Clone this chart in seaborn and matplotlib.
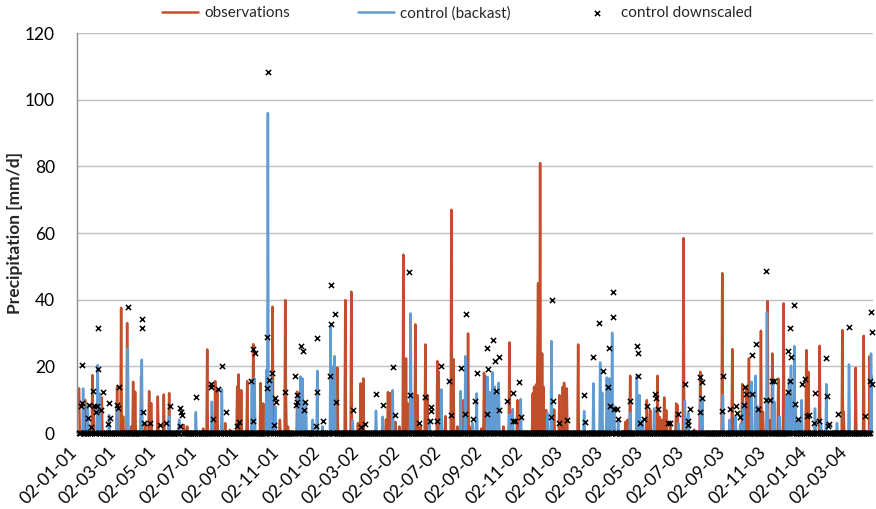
import numpy as np
import pandas as pd
import matplotlib
matplotlib.use("Agg")
import matplotlib.pyplot as plt
import matplotlib.dates as mdates
import seaborn as sns

# ---------------- data ----------------
start_date = "2001-01-01"
n_days = 1190

obs_day = [0, 9, 20, 22, 34, 57, 63, 66, 72, 78, 81, 84, 93, 99, 105, 108, 118, 127, 135, 150, 157, 162,
           186, 192, 204, 207, 219, 226, 237, 239, 243, 252, 261, 272, 276, 290, 301, 309, 310, 313, 327,
           387, 399, 408, 418, 422, 426, 460, 463, 466, 474, 480, 486, 490, 493, 504, 507, 512, 519, 522,
           537, 539, 549, 558, 561, 567, 576, 579, 583, 585, 603, 607, 609, 636, 645, 657, 680, 682, 685,
           687, 688, 691, 694, 696, 700, 712, 720, 725, 727, 731, 748, 819, 822, 826, 851, 856, 867, 870,
           873, 877, 880, 886, 895, 897, 906, 922, 931, 964, 979, 994, 1000, 1004, 1019, 1022, 1025, 1032,
           1036, 1039, 1048, 1056, 1058, 1090, 1093, 1110, 1144, 1146, 1164, 1176, 1185]
obs_mm = [13.4, 10, 17.4, 7.9, 10.7, 14, 37.6, 5, 33, 2, 15.4, 12.4, 17, 3, 12.6, 9, 11, 11.6, 12, 2.4, 2.4, 2,
          1.4, 25.1, 15.6, 12.9, 3, 1, 14, 17.6, 12.9, 15.6, 26.7, 15, 8.9, 37.9, 4, 39.9, 12.4, 2, 12.4,
          19.7, 39.9, 42.4, 3, 14.9, 16.4, 4.1, 12.3, 12, 3.4, 2, 53.5, 22.4, 8.9, 32.6, 11.4, 2, 26.6, 11.4,
          21.6, 18.4, 5.1, 67, 22.2, 2, 9.9, 8.9, 29.9, 2, 1.4, 18.1, 17, 2, 27.2, 9.9, 11.9, 13.9, 14.6,
          20.9, 45, 81, 23.9, 13.9, 6.9, 7.1, 11.4, 13.9, 15.1, 13.4, 26.6, 3.4, 4, 17.2, 9.9, 6.9, 17.2, 4.9,
          4, 10.7, 6.9, 3.4, 8.9, 8.4, 58.5, 1, 18.4, 48, 25.2, 14.7, 13.9, 22.4, 6.4, 30.7, 6.4, 39.6,
          3.9, 23.9, 16.4, 38.9, 8.4, 24.9, 18.4, 26.2, 30.9, 6.4, 19.6, 29.2, 23.1]

ctl_day = [6, 13, 28, 31, 45, 57, 73, 94, 135, 150, 175, 199, 214, 259, 263, 281, 283, 288, 294, 328, 332,
           335, 340, 350, 357, 365, 377, 380, 383, 410, 445, 455, 470, 497, 500, 525, 543, 572, 579, 590,
           596, 612, 615, 620, 623, 626, 629, 645, 650, 662, 702, 708, 757, 771, 781, 784, 791, 795, 799,
           802, 808, 826, 836, 840, 845, 862, 898, 908, 913, 932, 934, 965, 975, 984, 991, 996, 1008, 1014,
           1017, 1031, 1040, 1042, 1050, 1060, 1064, 1067, 1072, 1074, 1079, 1083, 1103, 1112, 1120, 1136,
           1154, 1187, 1189]
ctl_mm = [13.4, 8.4, 20.4, 11.9, 5.4, 7.4, 25.4, 22, 4.9, 4, 6.3, 9.4, 13.2, 16, 16.4, 19, 96, 16, 8, 11.4, 17,
          16.4, 8.9, 4, 18.7, 2, 31.9, 20, 23.1, 3.7, 6.7, 4.9, 12.9, 35.9, 11.4, 4, 13.1, 12.6, 23.1, 3,
          11.9, 16.9, 12.4, 18.2, 13.9, 11.4, 15.1, 5.6, 7.2, 10.2, 6, 27.6, 6.6, 14.9, 21.2, 12.1, 16.7, 16.4, 30.1,
          8, 4, 6, 17.2, 11.4, 4, 7.4, 3, 9.7, 6, 10.9, 9.9, 11.4, 4, 4.9, 2.7, 8.9, 15.4, 17.2,
          8, 36.2, 15.9, 9.4, 4.9, 11.3, 15.9, 20.2, 26.1, 8.9, 4, 9.9, 7.4, 3, 14.7, 3,
          20.6, 23.9, 17]

ds_day = [3, 4, 5, 14, 15, 18, 21, 22, 26, 27, 28, 29, 33, 36, 44, 45, 46, 57, 58, 60, 73, 94, 95, 96, 97, 107,
          122, 130, 136, 151, 152, 153, 154, 175, 197, 198, 200, 208, 214, 220, 237, 239, 258, 260, 261, 263,
          281, 282, 283, 284, 289, 292, 293, 295, 308, 324, 325, 326, 327, 332, 335, 337, 338, 355, 356, 357,
          365, 376, 377, 378, 383, 385, 410, 423, 428, 445, 455, 471, 474, 495, 496, 510, 519, 526, 527, 528,
          536, 543, 555, 558, 573, 578, 580, 590, 594, 596, 611, 612, 613, 620, 624, 625, 629, 630, 642, 650,
          651, 653, 660, 662, 707, 709, 711, 720, 731, 757, 759, 770, 780, 785, 793, 794, 796, 800, 801, 802,
          807, 808, 825, 836, 837, 838, 841, 846, 851, 863, 864, 868, 883, 886, 898, 908, 912, 913, 915, 930,
          931, 933, 934, 963, 965, 975, 984, 986, 991, 997, 998, 999, 1008, 1009, 1014, 1017, 1029, 1030,
          1035, 1039, 1041, 1062, 1063, 1065, 1066, 1067, 1072, 1073, 1077, 1083, 1088, 1091, 1094, 1102,
          1103, 1109, 1120, 1121, 1122, 1124, 1138, 1154, 1178, 1185, 1187, 1188, 1189]
ds_mm = [8.1, 8.9, 20.4, 4.4, 8.4, 1.9, 12.7, 8.1, 6.2, 8.2, 31.6, 19.1, 6.9, 12.3, 2.7, 9.1, 4.6, 8.4, 7.4, 13.7,
         37.7, 31.4, 34.2, 6.4, 3.1, 3.1, 2.5, 3.1, 8.1, 2.2, 7.6, 6.4, 5.4, 10.7, 13.9, 14.6, 4.1, 13.2, 20.2,
         6.4, 2.1, 3.4, 15.6, 25.2, 3.6, 24.1, 28.9, 13.6, 108.3, 15.9, 17.9, 2.5, 10.4, 9.4, 12.4, 17.1, 8.4,
         9.4, 11.4, 26.2, 24.6, 6.9, 9.4, 2.2, 12.4, 28.5, 3.6, 17.1, 44.4, 32.8, 35.6, 9.2, 6.9, 1.8, 2.6,
         11.6, 8.4, 19.7, 5.4, 48.3, 11.4, 3, 10.9, 3.6, 7.7, 6.6, 3.6, 20.1, 15.7, 5.4, 19.6, 5.7, 35.6, 4.3,
         9.7, 18.1, 5.7, 25.6, 19.1, 27.9, 21.6, 12.6, 22.9, 6.9, 9.7, 11.9, 3.6, 3.6, 15.4, 4.9, 4.9, 39.9,
         9.7, 2.9, 3.9, 11.4, 3.2, 22.7, 32.9, 18.6, 13.7, 25.4, 8.1, 34.9, 42.4, 7.2, 7.1, 4.1, 9.7, 26.2,
         23.9, 17.1, 3.1, 4.1, 8.1, 11.7, 10.4, 7.1, 2.9, 2.9, 5.7, 14.6, 2.4, 3.7, 7.1, 6.4, 16.9, 15.4, 10.4,
         6.6, 17.2, 7.1, 8.2, 5.9, 4.9, 8.4, 13.9, 11.6, 23.4, 11.6, 26.6, 7.1, 9.9, 48.6, 9.9, 15.6, 15.6,
         12.4, 24.6, 15.6, 31.6, 22.9, 38.4, 8.6, 4.1, 14.7, 16.1, 5.1, 5.4, 3.1, 11.9, 3.6, 22.6, 11.2, 2.2,
         2.6, 5.6, 31.9, 5.1, 15.6, 36.2, 30.2, 14.6]

series_names = ["observations", "control (backast)", "control downscaled"]
y_ticks = [0, 20, 40, 60, 80, 100, 120]
tick_dates = pd.date_range("2001-01-01", "2004-03-01", freq="2MS") + pd.Timedelta(days=1)

# ---------------- build table ----------------
dates = pd.date_range(start_date, periods=n_days, freq="D")


def daily(days, vals):
    s = np.zeros(n_days)
    s[np.array(days)] = vals
    return s


df = pd.DataFrame({
    "date": dates,
    "obs": daily(obs_day, obs_mm),
    "ctl": daily(ctl_day, ctl_mm),
    "ds": daily(ds_day, ds_mm),
})

# ---------------- plot ----------------
sns.set_theme(style="white")
plt.rcParams["font.family"] = ["Lato", "DejaVu Sans"]

red = "#C24F2C"
blue = "#619BD4"

fig, ax = plt.subplots(figsize=(8.76, 5.09), dpi=100)
fig.subplots_adjust(left=0.088, right=0.9966, top=0.935, bottom=0.149)

ax.grid(axis="y", color="#C0C0C0", lw=1.0, zorder=0)
ax.set_axisbelow(True)

sns.lineplot(data=df, x="date", y="obs", color=red, lw=1.8, ax=ax,
             label=series_names[0], estimator=None, zorder=2)
sns.lineplot(data=df, x="date", y="ctl", color=blue, lw=1.8, ax=ax,
             label=series_names[1], estimator=None, zorder=3)
sns.scatterplot(data=df, x="date", y="ds", marker="x", color="black", s=14, linewidth=1.1,
                ax=ax, label=series_names[2], zorder=5, clip_on=False)

ax.set_ylim(0, 120)
ax.set_yticks(y_ticks)
ax.set_xlim(pd.Timestamp("2000-12-29"), pd.Timestamp("2004-04-05"))
ax.set_xticks(tick_dates)
ax.xaxis.set_major_formatter(mdates.DateFormatter("%d-%m-%y"))
for lab in ax.get_xticklabels():
    lab.set_rotation(45)
    lab.set_ha("right")
ax.tick_params(axis="x", length=0, pad=8, labelsize=12.5, colors="black")
ax.tick_params(axis="y", length=0, pad=16, labelsize=12.5, colors="black")

ax.set_xlabel("")
ax.set_ylabel("Precipitation [mm/d]", fontsize=12.5, fontweight="bold")
ax.yaxis.set_label_coords(-0.068, 0.5)

for side in ["top", "right"]:
    ax.spines[side].set_visible(False)
ax.spines["left"].set_color("#8C8C8C")
ax.spines["bottom"].set_color("#8C8C8C")
ax.spines["left"].set_linewidth(1.0)

ax.legend(loc="center", bbox_to_anchor=(457 / 876, 0.974), bbox_transform=fig.transFigure,
          ncol=3, frameon=False, fontsize=11, handlelength=2.4, columnspacing=4.4,
          handletextpad=0.4)

fig.savefig("out.png", dpi=100)
